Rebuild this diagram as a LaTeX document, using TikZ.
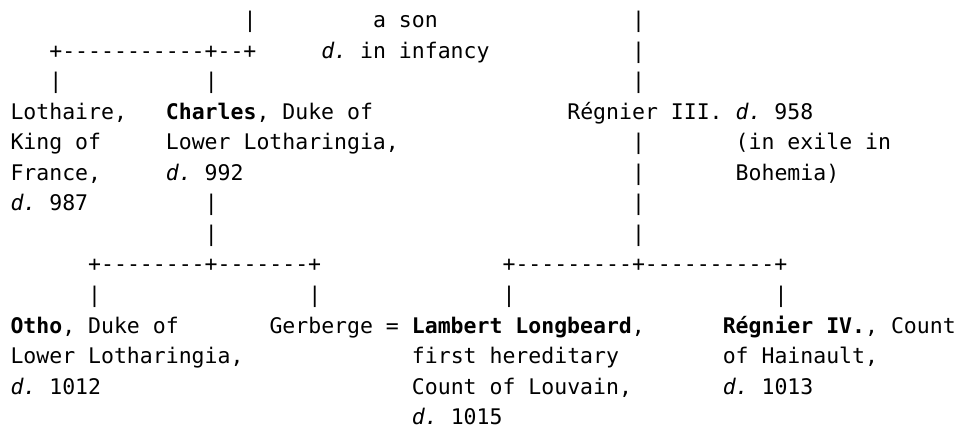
\documentclass[tikz,border=0pt]{standalone}
\usepackage{fontspec}
\setmonofont{DejaVu Sans Mono}[BoldFont={DejaVu Sans Mono Bold},ItalicFont={DejaVu Sans Mono Oblique},BoldItalicFont={DejaVu Sans Mono Bold Oblique}]
\tikzset{
  gtext/.style={anchor=base west, inner sep=0pt, outer sep=0pt,
    font=\ttfamily\fontsize{21.5}{30}\selectfont\frenchspacing, text=black}
}
% #1 name, #2 column, #3 row, #4 text
\newcommand\gentext[4]{\node[gtext] (#1) at ({10.5+12.95*(#2)},{-27.6-30.54*((#3)-1)}) {#4};}
\begin{document}
\begin{tikzpicture}[x=1pt,y=1pt]
\fill[white] (0,0) rectangle (958,-430);
\useasboundingbox (0,0) rectangle (958,-430);
% row 1
\gentext{r1a}{18}{1}{|}
\gentext{r1b}{28}{1}{a son}
\gentext{r1c}{48}{1}{|}
% row 2
\gentext{r2a}{3}{2}{+-----------+--+}
\gentext{r2b}{24}{2}{\textit{d.} in infancy}
\gentext{r2c}{48}{2}{|}
% row 3
\gentext{r3a}{3}{3}{|}
\gentext{r3b}{15}{3}{|}
\gentext{r3c}{48}{3}{|}
% row 4
\gentext{lothaire}{0}{4}{Lothaire,}
\gentext{charles}{12}{4}{\textbf{Charles}, Duke of}
\gentext{regnier3}{43}{4}{Régnier III. \textit{d.} 958}
% row 5
\gentext{r5a}{0}{5}{King of}
\gentext{r5b}{12}{5}{Lower Lotharingia,}
\gentext{r5c}{48}{5}{|}
\gentext{r5d}{56}{5}{(in exile in}
% row 6
\gentext{r6a}{0}{6}{France,}
\gentext{r6b}{12}{6}{\textit{d.} 992}
\gentext{r6c}{48}{6}{|}
\gentext{r6d}{56}{6}{Bohemia)}
% row 7
\gentext{r7a}{0}{7}{\textit{d.} 987}
\gentext{r7b}{15}{7}{|}
\gentext{r7c}{48}{7}{|}
% row 8
\gentext{r8a}{15}{8}{|}
\gentext{r8b}{48}{8}{|}
% row 9
\gentext{r9a}{6}{9}{+--------+-------+}
\gentext{r9b}{38}{9}{+---------+----------+}
% row 10
\gentext{r10a}{6}{10}{|}
\gentext{r10b}{23}{10}{|}
\gentext{r10c}{38}{10}{|}
\gentext{r10d}{59}{10}{|}
% row 11
\gentext{otho}{0}{11}{\textbf{Otho}, Duke of}
\gentext{gerberge}{20}{11}{Gerberge = \textbf{Lambert Longbeard},}
\gentext{regnier4}{55}{11}{\textbf{Régnier IV.}, Count}
% row 12
\gentext{r12a}{0}{12}{Lower Lotharingia,}
\gentext{r12b}{31}{12}{first hereditary}
\gentext{r12c}{55}{12}{of Hainault,}
% row 13
\gentext{r13a}{0}{13}{\textit{d.} 1012}
\gentext{r13b}{31}{13}{Count of Louvain,}
\gentext{r13c}{55}{13}{\textit{d.} 1013}
% row 14
\gentext{r14a}{31}{14}{\textit{d.} 1015}
\end{tikzpicture}
\end{document}
